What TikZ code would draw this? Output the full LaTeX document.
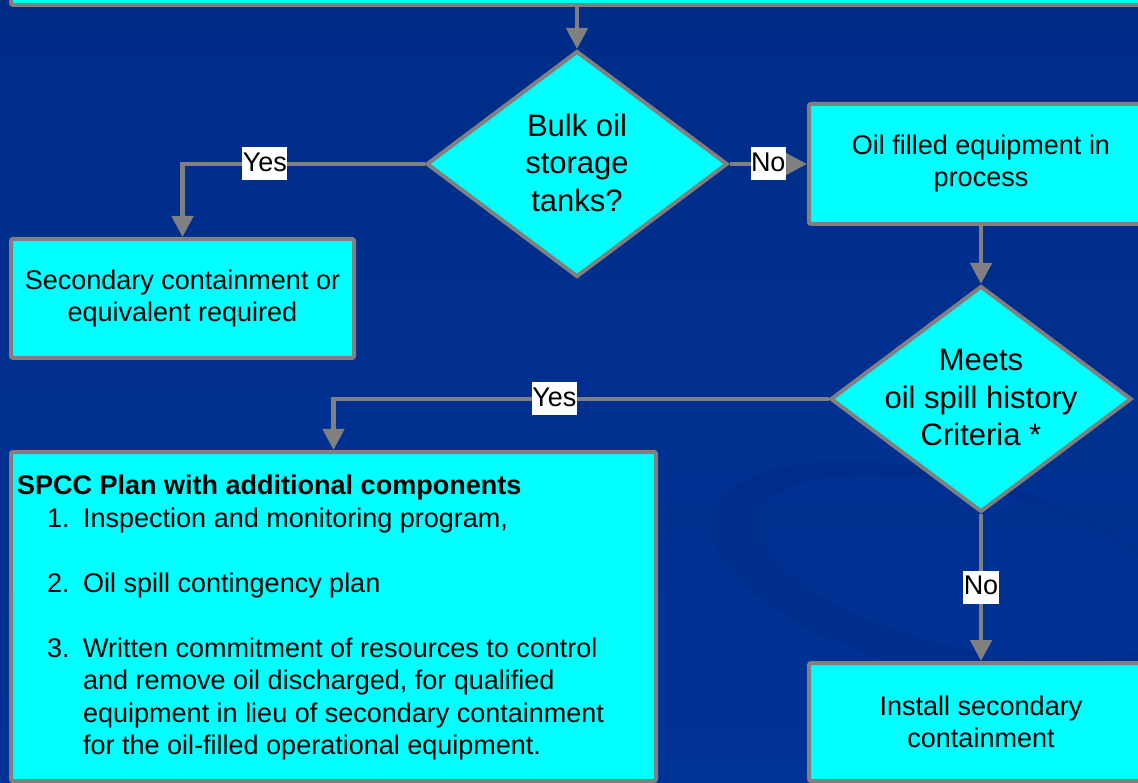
\documentclass[tikz,border=0pt]{standalone}
\usepackage{fontspec}
\setmainfont{Liberation Sans}
\usetikzlibrary{arrows.meta,shapes.geometric}
\definecolor{bg}{RGB}{0,51,150}
\definecolor{bgtop}{RGB}{0,44,136}
\definecolor{bgdark}{RGB}{0,40,128}
\definecolor{boxfill}{RGB}{0,255,255}
\definecolor{edge}{RGB}{128,128,128}
\newcommand{\fsz}[2]{\fontsize{#1}{#2}\selectfont}
\begin{document}
\begin{tikzpicture}[x=1pt,y=-1pt,
  box/.style={draw=edge,fill=boxfill,line width=4pt,rounded corners=2pt,inner sep=0pt,align=center,font=\fsz{27}{32}},
  dia/.style={diamond,draw=edge,fill=boxfill,line width=4pt,inner sep=0pt},
  diatext/.style={align=center,font=\fsz{31}{37.5},inner sep=0pt},
  conn/.style={draw=edge,line width=4.6pt,-{Triangle[width=21pt,length=21pt]}},
  lbl/.style={fill=white,font=\fsz{27}{32},inner xsep=0.5pt,inner ysep=3.25pt,text height=20.5pt,text depth=6pt},
]
% background
\shade[top color=bgtop,bottom color=bg] (0,0) rectangle (1138,783);
\useasboundingbox (0,0) rectangle (1138,783);
\fill[bgdark,opacity=0.3,even odd rule]
  (950,575) ellipse [x radius=245, y radius=100, rotate=-14]
  (968,568) ellipse [x radius=215, y radius=80, rotate=-14];

% boxes
\node[box,minimum width=1147pt,minimum height=63pt] (top) at (584.5,-26.5) {};
\node[box,minimum width=343pt,minimum height=119pt] (sec) at (182.5,298.5)
  {Secondary containment or\\equivalent required};
\node[box,minimum width=344pt,minimum height=120pt] (oil) at (981,164)
  {Oil filled equipment in\\process};
\node[box,minimum width=645pt,minimum height=329pt] (spcc) at (333.5,616.5) {};
\node[box,minimum width=344pt,minimum height=118pt] (inst) at (981,722)
  {Install secondary\\containment};

% diamonds
\node[dia,minimum width=301pt,minimum height=226pt] (d1) at (577,164) {};
\node[diatext] (d1t) at (577,162.5) {Bulk oil\\storage\\tanks?};
\node[dia,minimum width=301pt,minimum height=226pt] (d2) at (981,399) {};
\node[diatext] (d2t) at (981,397.5) {Meets\\oil spill history\\Criteria *};

% SPCC text
\node[anchor=north west,inner sep=0pt,align=left,font=\fsz{27}{32.5}] (spcct) at (17,475)
  {\textbf{SPCC Plan with additional components}\\
   \hspace*{30pt}\makebox[36pt][l]{1.}Inspection and monitoring program,\\[32.5pt]
   \hspace*{30pt}\makebox[36pt][l]{2.}Oil spill contingency plan\\[32.5pt]
   \hspace*{30pt}\makebox[36pt][l]{3.}Written commitment of resources to control\\
   \hspace*{66pt}and remove oil discharged, for qualified\\
   \hspace*{66pt}equipment in lieu of secondary containment\\
   \hspace*{66pt}for the oil-filled operational equipment.};

% connectors
\draw[conn] (top.south -| d1.north) -- (d1.north);
\draw[conn] (d1.west) -| node[lbl,pos=0.33] (yes1) {Yes} (sec.north);
\draw[conn] (d1.east) -- node[lbl] (no1) {No} (oil.west);
\draw[conn] (oil.south) -- (d2.north);
\draw[conn] (d2.west) -| node[lbl,pos=0.277] (yes2) {Yes} (spcc.north);
\draw[conn] (d2.south) -- node[lbl] (no2) {No} (inst.north);
\end{tikzpicture}
\end{document}
